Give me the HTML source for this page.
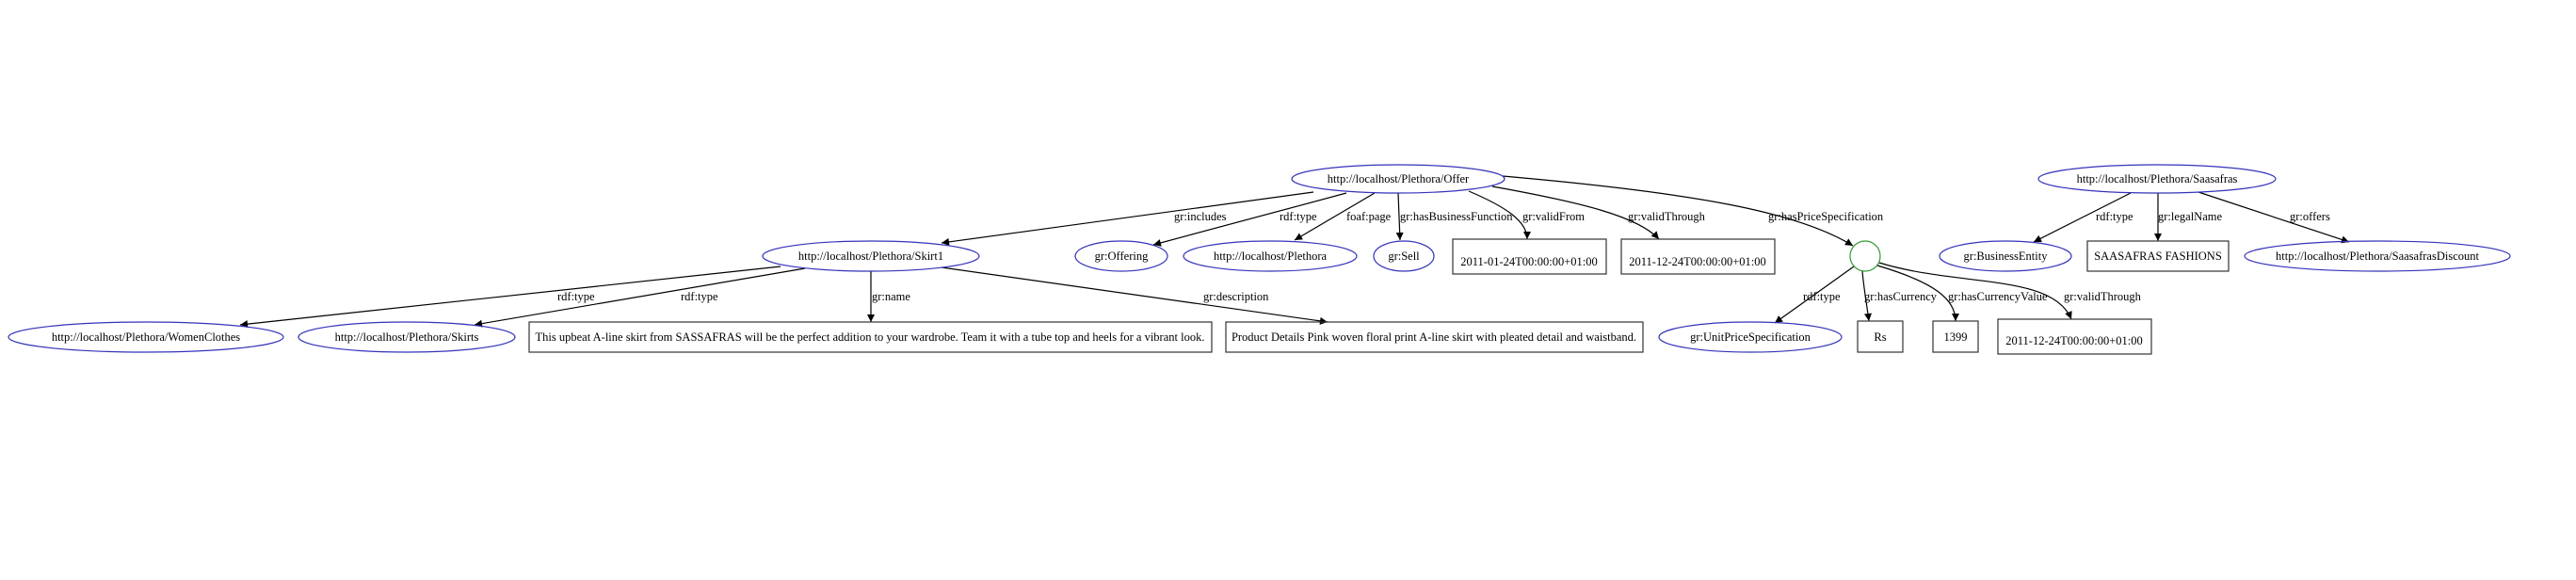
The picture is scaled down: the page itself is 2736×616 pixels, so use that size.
<!DOCTYPE html>
<html><head><meta charset="utf-8"><style>
html,body{margin:0;padding:0;background:#fff;width:2736px;height:616px;overflow:hidden}
svg text{font-family:"Liberation Serif",serif;font-size:12.5px;fill:#000}
</style></head><body>
<svg width="2736" height="616" viewBox="0 0 2736 616" xmlns="http://www.w3.org/2000/svg">
<defs><marker id="a" viewBox="0 0 10 10" refX="10" refY="5" markerWidth="10" markerHeight="8" markerUnits="userSpaceOnUse" orient="auto"><path d="M0,0L10,5L0,10z" fill="#000"/></marker></defs>
<g fill="none" stroke="#000" stroke-width="1.2" marker-end="url(#a)">
<path d="M1395,204 L1000,258"/>
<path d="M1430,205 L1225,260"/>
<path d="M1460,205 L1375,255"/>
<path d="M1485,205 L1487,255"/>
<path d="M1560,203 C1600,220 1622,235 1622,254"/>
<path d="M1585,198 C1680,215 1740,230 1762,254"/>
<path d="M1596,187 C1800,205 1910,225 1968,261"/>
<path d="M829,283 L255,345"/>
<path d="M855,285 L504,345"/>
<path d="M925,288 L925,342"/>
<path d="M1000,284 L1410,342"/>
<path d="M1969,283 L1885,343"/>
<path d="M1978,288 C1980,310 1983,325 1985,341"/>
<path d="M1994,282 C2055,300 2077,318 2077,341"/>
<path d="M1996,279 C2080,305 2180,290 2200,339"/>
<path d="M2263,205 L2160,257"/>
<path d="M2292,205 L2292,256"/>
<path d="M2335,204 L2495,257"/>
</g>
<g fill="none" stroke="#3333bb" stroke-width="1.2">
<ellipse cx="1485" cy="190" rx="113" ry="15"/>
<ellipse cx="925" cy="272" rx="115" ry="16"/>
<ellipse cx="1191" cy="272" rx="49" ry="16"/>
<ellipse cx="1349" cy="272" rx="92" ry="16"/>
<ellipse cx="1491" cy="272" rx="32" ry="16"/>
<ellipse cx="2291" cy="190" rx="126" ry="15"/>
<ellipse cx="2130" cy="272" rx="70" ry="16"/>
<ellipse cx="2525" cy="272" rx="141" ry="16"/>
<ellipse cx="155" cy="358" rx="146" ry="16"/>
<ellipse cx="432" cy="358" rx="115" ry="16"/>
<ellipse cx="1859" cy="358" rx="97" ry="16"/>
</g>
<circle cx="1981" cy="272" r="16" fill="none" stroke="#339933" stroke-width="1.2"/>
<g fill="none" stroke="#333" stroke-width="1.2">
<rect x="1543" y="254" width="163" height="37"/>
<rect x="1722" y="254" width="163" height="37"/>
<rect x="2217" y="256" width="150" height="32"/>
<rect x="562" y="342" width="725" height="32"/>
<rect x="1302" y="342" width="443" height="32"/>
<rect x="1973" y="341" width="48" height="33"/>
<rect x="2053" y="341" width="48" height="33"/>
<rect x="2122" y="339" width="163" height="37"/>
</g>
<g text-anchor="middle">
<text x="1485" y="194">http://localhost/Plethora/Offer</text>
<text x="925" y="276">http://localhost/Plethora/Skirt1</text>
<text x="1191" y="276">gr:Offering</text>
<text x="1349" y="276">http://localhost/Plethora</text>
<text x="1491" y="276">gr:Sell</text>
<text x="1624" y="282">2011-01-24T00:00:00+01:00</text>
<text x="1803" y="282">2011-12-24T00:00:00+01:00</text>
<text x="2291" y="194">http://localhost/Plethora/Saasafras</text>
<text x="2130" y="276">gr:BusinessEntity</text>
<text x="2292" y="276">SAASAFRAS FASHIONS</text>
<text x="2525" y="276">http://localhost/Plethora/SaasafrasDiscount</text>
<text x="155" y="362">http://localhost/Plethora/WomenClothes</text>
<text x="432" y="362">http://localhost/Plethora/Skirts</text>
<text x="924" y="362">This upbeat A-line skirt from SASSAFRAS will be the perfect addition to your wardrobe. Team it with a tube top and heels for a vibrant look.</text>
<text x="1523" y="362">Product Details Pink woven floral print A-line skirt with pleated detail and waistband.</text>
<text x="1859" y="362">gr:UnitPriceSpecification</text>
<text x="1997" y="362">Rs</text>
<text x="2077" y="362">1399</text>
<text x="2203" y="366">2011-12-24T00:00:00+01:00</text>
</g>
<g>
<text x="1247" y="234">gr:includes</text>
<text x="1359" y="234">rdf:type</text>
<text x="1430" y="234">foaf:page</text>
<text x="1487" y="234">gr:hasBusinessFunction</text>
<text x="1617" y="234">gr:validFrom</text>
<text x="1729" y="234">gr:validThrough</text>
<text x="1878" y="234">gr:hasPriceSpecification</text>
<text x="2226" y="234">rdf:type</text>
<text x="2292" y="234">gr:legalName</text>
<text x="2432" y="234">gr:offers</text>
<text x="592" y="319">rdf:type</text>
<text x="723" y="319">rdf:type</text>
<text x="926" y="319">gr:name</text>
<text x="1278" y="319">gr:description</text>
<text x="1915" y="319">rdf:type</text>
<text x="1980" y="319">gr:hasCurrency</text>
<text x="2069" y="319">gr:hasCurrencyValue</text>
<text x="2192" y="319">gr:validThrough</text>
</g>
</svg>
</body></html>
